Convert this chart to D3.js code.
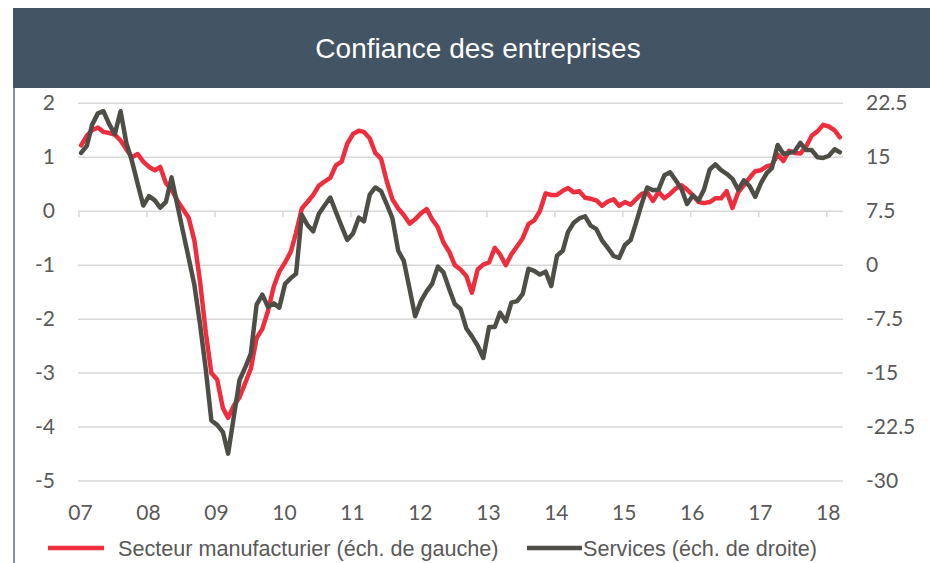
<!DOCTYPE html>
<html>
<head>
<meta charset="utf-8">
<script src="https://cdn.jsdelivr.net/npm/d3@7"></script>
<style>
  body { margin: 0; background: #fff; }
  svg { display: block; }
</style>
</head>
<body>
<svg width="930" height="563"></svg>
<script>
// monthly data, Jan 2007 -> Mar 2018
const startYear = 2007;
const yearLabels = ["07", "08", "09", "10", "11", "12", "13", "14", "15", "16", "17", "18"];

const manufacturing = [
    1.22, 1.40, 1.50, 1.55, 1.47, 1.45, 1.42, 1.31, 1.15, 1.00, 1.06, 0.92,
    0.82, 0.76, 0.82, 0.52, 0.40, 0.20, 0.04, -0.12, -0.55, -1.30, -2.25, -3.00,
    -3.12, -3.65, -3.83, -3.60, -3.45, -3.18, -2.92, -2.35, -2.18, -1.85, -1.40, -1.12,
    -0.95, -0.75, -0.40, 0.05, 0.17, 0.30, 0.47, 0.55, 0.62, 0.85, 0.92, 1.25,
    1.43, 1.49, 1.47, 1.35, 1.08, 0.97, 0.56, 0.22, 0.05, -0.07, -0.23, -0.15,
    -0.04, 0.04, -0.15, -0.30, -0.58, -0.75, -1.00, -1.08, -1.20, -1.51, -1.08, -0.99,
    -0.95, -0.68, -0.80, -1.00, -0.80, -0.65, -0.50, -0.24, -0.17, 0.00, 0.33, 0.30,
    0.30, 0.38, 0.43, 0.35, 0.37, 0.25, 0.23, 0.20, 0.10, 0.18, 0.22, 0.10,
    0.17, 0.12, 0.22, 0.32, 0.35, 0.19, 0.36, 0.24, 0.32, 0.42, 0.48, 0.40,
    0.30, 0.17, 0.15, 0.17, 0.24, 0.24, 0.37, 0.06, 0.35, 0.48, 0.62, 0.74,
    0.76, 0.83, 0.86, 1.05, 0.93, 1.12, 1.08, 1.07, 1.20, 1.40, 1.48, 1.60,
    1.57, 1.50, 1.37
];

const services = [
    15.6, 16.6, 19.5, 21.1, 21.4, 19.6, 18.2, 21.4, 17.0, 14.5, 11.3, 8.3,
    9.6, 9.0, 8.0, 8.8, 12.2, 8.4, 4.7, 1.0, -2.8, -8.2, -14.5, -21.6,
    -22.2, -23.2, -26.2, -21.0, -16.0, -14.2, -12.3, -5.5, -4.1, -5.8, -5.3, -5.9,
    -2.6, -1.8, -1.2, 7.0, 5.6, 4.7, 7.1, 8.3, 9.4, 7.4, 5.4, 3.5,
    4.4, 6.6, 6.1, 9.8, 10.8, 10.3, 8.5, 6.5, 2.0, 0.6, -3.3, -7.1,
    -5.0, -3.6, -2.6, -0.2, -1.0, -3.3, -5.4, -6.1, -8.8, -9.9, -11.2, -12.9,
    -8.6, -8.6, -6.6, -7.8, -5.2, -5.0, -4.0, -0.5, -0.8, -1.3, -0.9, -2.9,
    1.3, 2.0, 4.6, 5.9, 6.5, 6.8, 5.5, 5.0, 3.4, 2.4, 1.3, 1.0,
    2.8, 3.5, 5.8, 8.5, 10.8, 10.4, 10.5, 12.5, 12.9, 11.8, 10.6, 8.5,
    9.7, 9.0, 10.5, 13.3, 14.0, 13.2, 12.7, 12.0, 10.5, 11.8, 11.0, 9.5,
    11.4, 12.8, 13.5, 16.7, 15.5, 15.6, 15.8, 17.0, 16.0, 16.0, 15.0, 14.9,
    15.2, 16.1, 15.7
];

const leftTicks = [2, 1, 0, -1, -2, -3, -4, -5];
const rightTicks = [22.5, 15, 7.5, 0, -7.5, -15, -22.5, -30];

const title = "Confiance des entreprises";
const legendManuf = "Secteur manufacturier (éch. de gauche)";
const legendServ = "Services (éch. de droite)";

const red = "#EE2D3D";
const dark = "#4E4E47";
const grid = "#D9D9D9";
const textCol = "#595959";
const tickFont = "Lato, 'Open Sans', sans-serif";
const textFont = "'Liberation Sans', Arial, sans-serif";

const svg = d3.select("svg");

// header band + left border
svg.append("rect")
    .attr("x", 13).attr("y", 8)
    .attr("width", 917).attr("height", 80)
    .attr("fill", "#435464");
svg.append("line")
    .attr("x1", 14).attr("x2", 14)
    .attr("y1", 88).attr("y2", 563)
    .attr("stroke", "#8593A0").attr("stroke-width", 2);
svg.append("text")
    .attr("x", 478).attr("y", 58)
    .attr("text-anchor", "middle")
    .attr("fill", "#fff")
    .style("font-family", textFont)
    .style("font-size", "28px")
    .text(title);

const x = d3.scaleTime()
    .domain([new Date(2007, 0, 1), new Date(2018, 3, 1)])
    .range([78.5, 843]);
const yL = d3.scaleLinear().domain([-5, 2]).range([481, 103.3]);
const yR = d3.scaleLinear().domain([-30, 22.5]).range([481, 103.3]);

const monthDate = (i) => new Date(startYear, i, 15);

// gridlines
svg.append("g").selectAll("line")
    .data(leftTicks)
    .join("line")
    .attr("x1", 78).attr("x2", 843)
    .attr("y1", (d) => yL(d)).attr("y2", (d) => yL(d))
    .attr("stroke", grid).attr("stroke-width", 1.5);

// x axis sits on the zero line
const xAxis = d3.axisBottom(x)
    .tickValues(yearLabels.map((d, i) => new Date(startYear + i, 0, 1)))
    .tickSize(6)
    .tickFormat("");
const gx = svg.append("g")
    .attr("transform", `translate(0,${yL(0)})`)
    .call(xAxis);
gx.select(".domain").remove();
gx.selectAll(".tick line").attr("stroke", grid).attr("stroke-width", 1.5);

// year labels at the bottom
svg.append("g").selectAll("text")
    .data(yearLabels)
    .join("text")
    .attr("x", (d, i) => x(new Date(startYear + i, 0, 1)) + 2)
    .attr("y", 520)
    .attr("text-anchor", "middle")
    .attr("fill", textCol)
    .style("font-family", tickFont)
    .style("font-size", "21px")
    .text((d) => d);

// left + right scale labels
svg.append("g").selectAll("text")
    .data(leftTicks)
    .join("text")
    .attr("x", 55)
    .attr("y", (d) => yL(d) + 7)
    .attr("text-anchor", "end")
    .attr("fill", textCol)
    .style("font-family", tickFont)
    .style("font-size", "21px")
    .text((d) => d);

svg.append("g").selectAll("text")
    .data(rightTicks)
    .join("text")
    .attr("x", 866)
    .attr("y", (d) => yR(d) + 7)
    .attr("text-anchor", "start")
    .attr("fill", textCol)
    .style("font-family", tickFont)
    .style("font-size", "21px")
    .text((d) => d);

const lineL = d3.line()
    .x((d, i) => x(monthDate(i)))
    .y((d) => yL(d));
const lineR = d3.line()
    .x((d, i) => x(monthDate(i)))
    .y((d) => yR(d));

svg.append("path")
    .datum(manufacturing)
    .attr("d", lineL)
    .attr("fill", "none")
    .attr("stroke", red)
    .attr("stroke-width", 4.5)
    .attr("stroke-linejoin", "round")
    .attr("stroke-linecap", "round");

svg.append("path")
    .datum(services)
    .attr("d", lineR)
    .attr("fill", "none")
    .attr("stroke", dark)
    .attr("stroke-width", 4.5)
    .attr("stroke-linejoin", "round")
    .attr("stroke-linecap", "round");

// legend
const legend = [
    {label: legendManuf, color: red, x1: 48, x2: 104, tx: 118},
    {label: legendServ, color: dark, x1: 527, x2: 582, tx: 583}
];
const lg = svg.append("g").selectAll("g")
    .data(legend)
    .join("g");
lg.append("line")
    .attr("x1", (d) => d.x1).attr("x2", (d) => d.x2)
    .attr("y1", 548).attr("y2", 548)
    .attr("stroke", (d) => d.color)
    .attr("stroke-width", 4.5);
lg.append("text")
    .attr("x", (d) => d.tx)
    .attr("y", 555.5)
    .attr("fill", textCol)
    .style("font-family", textFont)
    .style("font-size", "21.6px")
    .text((d) => d.label);
</script>
</body>
</html>
